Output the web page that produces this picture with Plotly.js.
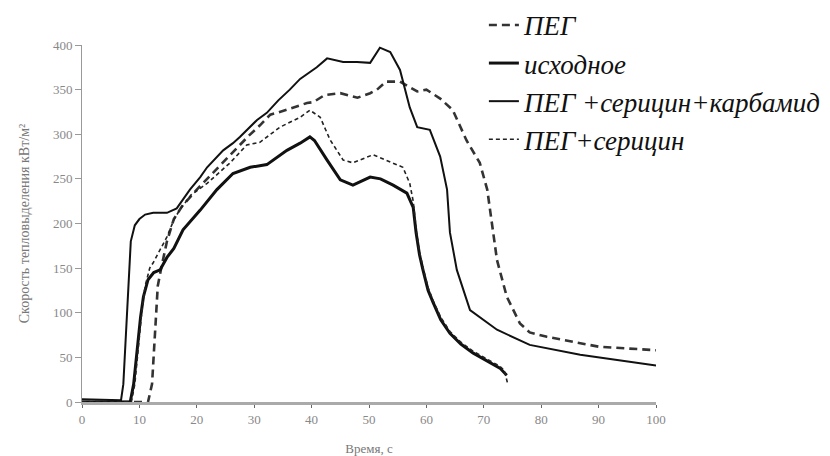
<!DOCTYPE html>
<html>
<head>
<meta charset="utf-8">
<script src="https://cdn.plot.ly/plotly-3.0.1.min.js"></script>
<style>html,body{margin:0;padding:0;background:#fff;}#chart{width:830px;height:456px;}</style>
</head>
<body>
<div id="chart"></div>
<script>
// ПЕГ (thick dashed)
const pegT = [0, 11.5, 12.2, 12.8, 13.2, 13.8, 14.8, 16, 17.5, 20, 23, 26, 29, 31, 32.8, 34, 36.2, 39.2, 40.3, 42.3, 45, 48, 50.2, 51.4, 53, 55.4, 58.4, 60, 62.4, 64.6, 67, 69.3, 70.6, 71.6, 72.3, 74, 76.3, 78, 81, 90, 100];
const pegV = [0, 0, 20, 80, 130, 150, 180, 205, 220, 238, 258, 278, 298, 310, 322, 324, 329, 335, 336, 344, 346, 341, 346, 350, 359, 359, 348, 350, 340, 327, 293, 268, 238, 193, 159, 118, 88, 78, 73, 62, 58];

// исходное (thick solid)
const ishT = [0, 8.4, 9.0, 9.6, 10.2, 10.7, 11.5, 12.5, 13.6, 14.8, 16, 17.6, 20.6, 23.5, 26.3, 29.3, 32.2, 35.7, 38, 39.7, 40.5, 42.7, 45, 47.2, 50.2, 52, 54.2, 56.6, 57.7, 58.2, 58.8, 59.4, 60.3, 61.2, 62.5, 64.1, 66, 68.1, 70.5, 72.8, 74];
const ishV = [0, 0, 20, 62, 95, 118, 137, 145, 148, 162, 172, 193, 215, 238, 256, 263, 266, 282, 290, 297, 293, 271, 249, 243, 252, 250, 243, 234, 218, 190, 165, 148, 125, 111, 92, 77, 65, 55, 46, 38, 30];

// ПЕГ +серицин+карбамид (solid)
const pskT = [0, 6.8, 7.2, 7.8, 8.5, 9.2, 10, 11, 12.4, 14.8, 16.5, 18.8, 20.6, 21.8, 24.6, 26.3, 27.5, 30.5, 32.2, 34.2, 36.2, 38, 40.9, 42.7, 45.5, 47.9, 50.2, 51.9, 53.7, 55.4, 57.1, 58.4, 60.6, 62.4, 63.6, 64.1, 65.3, 67.6, 72.3, 78, 86.8, 100];
const pskV = [3, 2, 20, 100, 180, 198, 205, 210, 212, 212, 217, 238, 252, 263, 282, 290, 297, 316, 324, 338, 350, 362, 375, 385, 381, 381, 380, 397, 392, 372, 330, 308, 305, 275, 238, 190, 148, 103, 81, 64, 53, 41];

// ПЕГ+серицин (thin dashed)
const psT = [0, 8.6, 9.2, 9.8, 10.4, 11, 11.8, 12.4, 13.5, 14.8, 16, 17, 19, 21.8, 25.8, 28.7, 31, 34.5, 38, 39.7, 41.5, 43.2, 45.5, 47.2, 50.7, 54.2, 55.9, 57.1, 57.7, 58.2, 58.8, 59.5, 60.3, 61.2, 62.5, 64.1, 66, 68.1, 70.5, 72.8, 73.6, 74.1];
const psV = [0, 0, 20, 60, 100, 130, 150, 156, 170, 185, 204, 215, 232, 245, 268, 288, 291, 308, 319, 327, 319, 294, 271, 268, 277, 268, 263, 245, 225, 195, 168, 148, 128, 113, 95, 79, 67, 57, 48, 40, 35, 22];

const xTicks = [0, 10, 20, 30, 40, 50, 60, 70, 80, 90, 100];
const yTicks = [0, 50, 100, 150, 200, 250, 300, 350, 400];

const names = ['ПЕГ', 'исходное', 'ПЕГ +серицин+карбамид', 'ПЕГ+серицин'];

const traces = [
  {x: pegT, y: pegV, name: names[0], legendgroup: 'a', line: {color: '#333', width: 2.6, dash: '8px,5px'}},
  {x: ishT, y: ishV, name: names[1], legendgroup: 'b', line: {color: '#111', width: 3}},
  {x: pskT, y: pskV, name: names[2], legendgroup: 'c', line: {color: '#111', width: 2}},
  {x: psT, y: psV, name: names[3], legendgroup: 'd', line: {color: '#222', width: 1.6, dash: '4px,3px'}}
].map(t => Object.assign({type: 'scatter', mode: 'lines'}, t));

const layout = {
  width: 830, height: 456,
  margin: {l: 82, r: 174, t: 45, b: 54, autoexpand: false},
  paper_bgcolor: '#fff', plot_bgcolor: '#fff',
  font: {family: 'Liberation Serif, serif', color: '#777'},
  showlegend: true,
  legend: {
    xref: 'container', yref: 'container',
    x: 0.583, y: 0.998, xanchor: 'left', yanchor: 'top',
    font: {family: 'Liberation Serif, serif', size: 27, color: '#111', style: 'italic'},
    bgcolor: 'rgba(0,0,0,0)',
    tracegroupgap: 0,
    itemwidth: 30
  },
  xaxis: {
    range: [0, 100], tickvals: xTicks, ticktext: xTicks.map(String),
    showgrid: false, zeroline: false, automargin: false,
    showline: true, linecolor: '#aaa', linewidth: 3,
    ticks: 'outside', ticklen: 3, tickcolor: '#666', tickwidth: 1,
    tickfont: {size: 13, color: '#888'},
    title: {text: 'Время, с', font: {size: 13, color: '#777'}, standoff: 20}
  },
  yaxis: {
    range: [0, 400], tickvals: yTicks, ticktext: yTicks.map(String),
    showgrid: false, zeroline: false, automargin: false,
    showline: true, linecolor: '#999', linewidth: 1,
    ticks: 'outside', ticklen: 6, tickcolor: '#999', tickwidth: 1,
    tickfont: {size: 13, color: '#888'},
    title: {text: 'Скорость тепловыделения кВт/м²', font: {size: 14, color: '#777'}, standoff: 20}
  }
};

Plotly.newPlot('chart', traces, layout, {displayModeBar: false, staticPlot: true});
</script>
</body>
</html>
